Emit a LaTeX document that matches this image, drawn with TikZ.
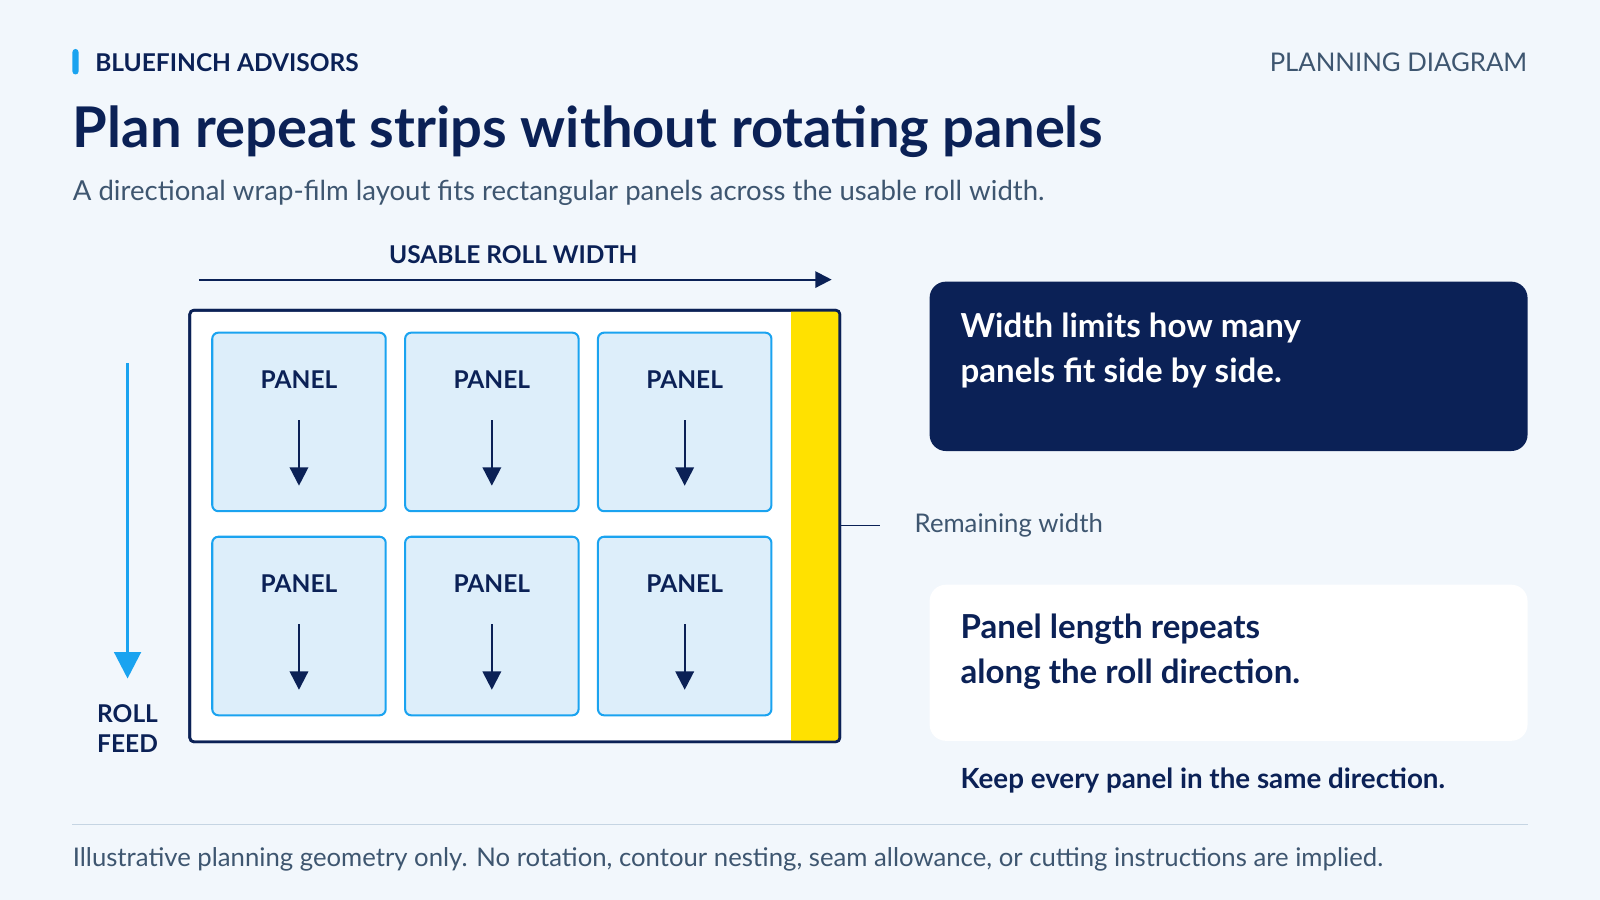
\documentclass[tikz,border=0pt]{standalone}
\usepackage{fontspec}
\setmainfont{Lato}
\usetikzlibrary{arrows.meta}
\definecolor{navy}{HTML}{0B2156}
\definecolor{sky}{HTML}{1AA3F0}
\definecolor{slate}{HTML}{3E5670}
\definecolor{paper}{HTML}{F2F7FC}
\definecolor{panelfill}{HTML}{DDEEFA}
\definecolor{strip}{HTML}{FFE100}
\definecolor{rule}{HTML}{C6D5E3}
\tikzset{
  panel/.style={draw=sky, line width=1pt, fill=panelfill, rounded corners=3pt},
  tag/.style={font=\bfseries\fontsize{12}{13}\selectfont, text=navy},
  note/.style={font=\fontsize{12.6}{14}\selectfont, text=slate, anchor=west, inner sep=0pt},
  card/.style={font=\bfseries\fontsize{16.2}{22}\selectfont, anchor=north west, align=left, inner sep=0pt},
  feed/.style={-{Triangle[length=10pt,width=10pt]}, line width=1.5pt, draw=navy}
}
\begin{document}
\begin{tikzpicture}[x=0.5pt,y=-0.5pt]
\useasboundingbox (0,0) rectangle (1568,882);
\fill[paper] (0,0) rectangle (1568,882);
% header
\fill[sky, rounded corners=1.5pt] (71,48) rectangle (77,73);
\node[tag, anchor=west, inner sep=0pt] (brand) at (93,61) {BLUEFINCH ADVISORS};
\node[note, anchor=east] (kind) at (1497,61) {PLANNING DIAGRAM};
\node[anchor=west, inner sep=0pt, text=navy, font=\bfseries\fontsize{27.5}{30}\selectfont] (title) at (71,129) {Plan repeat strips without rotating panels};
\node[note, font=\fontsize{13.5}{15}\selectfont] (sub) at (71,189) {A directional wrap-film layout fits rectangular panels across the usable roll width.};
% roll
\node[tag] (width) at (503,250) {USABLE ROLL WIDTH};
\coordinate (w0) at (195,274);
\coordinate (w1) at (815,274);
\draw[-{Triangle[length=8pt,width=8pt]}, line width=1pt, navy] (w0) -- (w1);
\draw[navy, line width=1.3pt, fill=white, rounded corners=2pt] (186,304) rectangle (823,727);
\fill[strip] (775,305) rectangle (822,726);
\draw[navy, line width=1.3pt, rounded corners=2pt] (186,304) rectangle (823,727);
\foreach \x/\c in {208/a, 397/b, 586/c}
  \foreach \y/\r in {326/1, 526/2} {
    \draw[panel] (\x,\y) rectangle ++(170,175);
    \node[tag] (p\c\r) at (\x+85,\y+46) {PANEL};
    \coordinate (s\c\r) at (\x+85,\y+86);
    \coordinate (e\c\r) at (\x+85,\y+150);
    \draw[-{Triangle[length=9pt,width=9pt]}, line width=1.1pt, navy] (s\c\r) -- (e\c\r);
  }
% feed direction
\coordinate (f0) at (125,356);
\coordinate (f1) at (125,665);
\draw[-{Triangle[length=13pt,width=13pt]}, line width=1.6pt, sky] (f0) -- (f1);
\node[tag, align=center, font=\bfseries\fontsize{12}{14.5}\selectfont] (feedlbl) at (125,714) {ROLL\\FEED};
% remaining width
\coordinate (r0) at (823,515);
\coordinate (r1) at (862,515);
\draw[navy, line width=0.8pt] (r0) -- (r1);
\node[note] (remain) at (896,515) {Remaining width};
% cards
\fill[navy, rounded corners=8pt] (911,276) rectangle (1497,442);
\node[card, text=white] (limit) at (941,306) {Width limits how many\\panels fit side by side.};
\fill[white, rounded corners=8pt] (911,573) rectangle (1497,726);
\node[card, text=navy] (repeat) at (941,601) {Panel length repeats\\along the roll direction.};
\node[anchor=west, inner sep=0pt, text=navy, font=\bfseries\fontsize{13.6}{15}\selectfont] (keep) at (941,765) {Keep every panel in the same direction.};
% footer
\draw[rule, line width=0.8pt] (71,808) -- (1497,808);
\node[note] (foot) at (71,842) {Illustrative planning geometry only. No rotation, contour nesting, seam allowance, or cutting instructions are implied.};
\end{tikzpicture}
\end{document}
